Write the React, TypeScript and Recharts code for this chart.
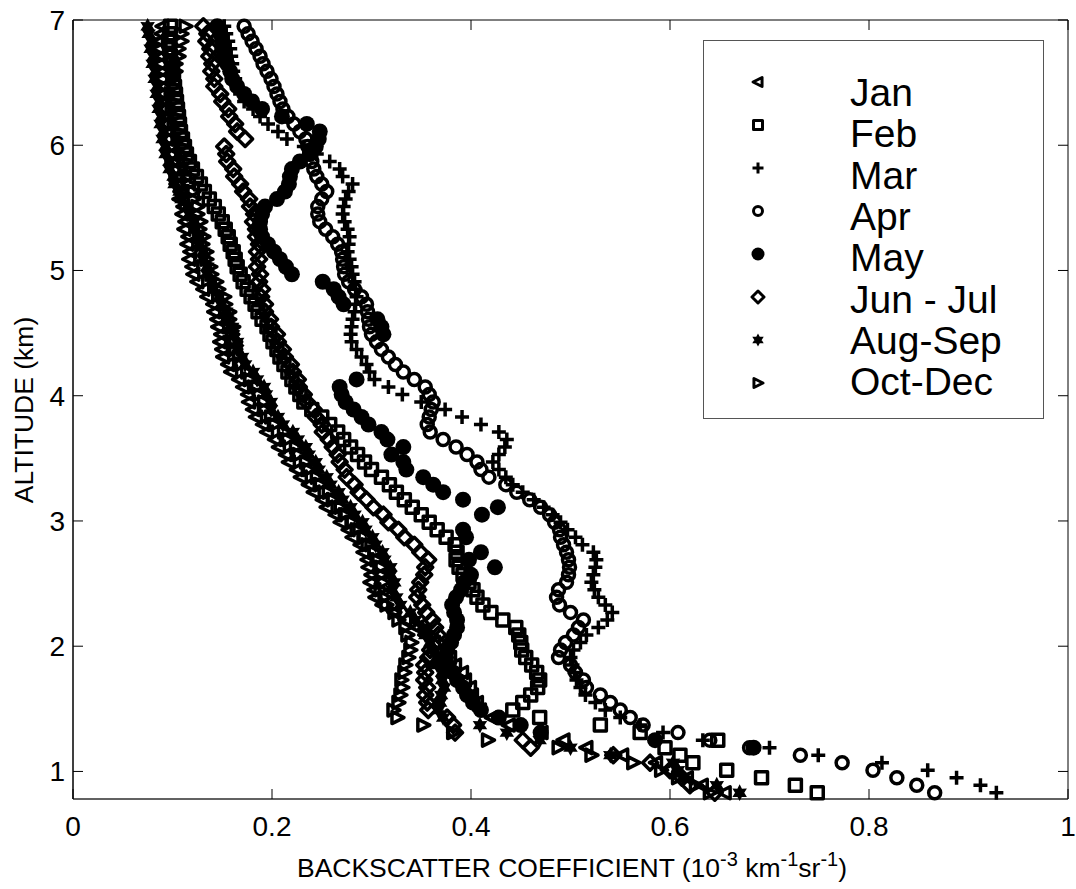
import { Label, Legend, ReferenceArea, Scatter, ScatterChart, XAxis, YAxis } from "recharts";

// Altitude bins shared by every monthly profile (km)
const altitudes = [
  0.83, 0.89, 0.95, 1.01, 1.07, 1.13, 1.19, 1.25, 1.31, 1.37,
  1.43, 1.49, 1.55, 1.61, 1.67, 1.73, 1.79, 1.85, 1.91, 1.97,
  2.03, 2.09, 2.15, 2.21, 2.27, 2.33, 2.39, 2.45, 2.51, 2.57,
  2.63, 2.69, 2.75, 2.81, 2.87, 2.93, 2.99, 3.05, 3.11, 3.17,
  3.23, 3.29, 3.35, 3.41, 3.47, 3.53, 3.59, 3.65, 3.71, 3.77,
  3.83, 3.89, 3.95, 4.01, 4.07, 4.13, 4.19, 4.25, 4.31, 4.37,
  4.43, 4.49, 4.55, 4.61, 4.67, 4.73, 4.79, 4.85, 4.91, 4.97,
  5.03, 5.09, 5.15, 5.21, 5.27, 5.33, 5.39, 5.45, 5.51, 5.57,
  5.63, 5.69, 5.75, 5.81, 5.87, 5.93, 5.99, 6.05, 6.11, 6.17,
  6.23, 6.29, 6.35, 6.41, 6.47, 6.53, 6.59, 6.65, 6.71, 6.77,
  6.83, 6.89, 6.95,
];

// Backscatter coefficient per altitude bin (10^-3 km^-1 sr^-1), null = no sample
const janValues = [
  0.655, 0.632, 0.617, 0.598, 0.586, 0.552, 0.516, 0.493, 0.471, 0.438,
  0.421, 0.409, 0.406, 0.401, 0.399, 0.394, 0.391, 0.384, 0.379, 0.369,
  0.363, 0.354, 0.346, 0.334, 0.323, 0.311, 0.304, 0.303, 0.299, 0.3,
  0.297, 0.296, 0.292, 0.289, 0.281, 0.277, 0.269, 0.264, 0.255, 0.251,
  0.242, 0.237, 0.229, 0.225, 0.217, 0.214, 0.207, 0.203, 0.195, 0.191,
  0.184, 0.181, 0.177, 0.176, 0.171, 0.167, 0.159, 0.156, 0.151, 0.15,
  0.148, 0.149, 0.146, 0.145, 0.142, 0.141, 0.135, 0.131, 0.125, 0.121,
  0.12, 0.117, 0.118, 0.115, 0.116, 0.112, 0.113, 0.11, 0.111, 0.107,
  0.108, 0.104, 0.104, 0.101, 0.1, 0.098, 0.097, 0.095, 0.096, 0.093,
  0.094, 0.091, 0.092, 0.09, 0.091, 0.089, 0.09, 0.088, 0.089, 0.087,
  0.088, 0.089, 0.09,
];

const febValues = [
  0.748, 0.726, 0.692, 0.657, 0.623, 0.61, 0.595, 0.648, 0.57, 0.53,
  0.469, 0.442, 0.452, 0.46, 0.467, 0.469, 0.466, 0.461, 0.455, 0.451,
  0.45, 0.448, 0.445, 0.432, 0.42, 0.412, 0.406, 0.402, 0.398, 0.392,
  0.388, 0.385, 0.386, 0.384, 0.375, 0.366, 0.358, 0.35, 0.341, 0.333,
  0.325, 0.318, 0.31, 0.3, 0.293, 0.286, 0.279, 0.272, 0.266, 0.258,
  0.25, 0.24, 0.232, 0.228, 0.224, 0.22, 0.216, 0.212, 0.208, 0.205,
  0.201, 0.198, 0.195, 0.19, 0.186, 0.183, 0.179, 0.175, 0.171, 0.168,
  0.165, 0.163, 0.161, 0.158, 0.156, 0.153, 0.15, 0.146, 0.142, 0.137,
  0.132, 0.128, 0.124, 0.12, 0.117, 0.114, 0.112, 0.11, 0.108, 0.107,
  0.106, 0.105, 0.104, 0.103, 0.102, 0.101, 0.1, 0.099, 0.098, 0.097,
  0.096, 0.097, 0.098,
];

const marValues = [
  0.928, 0.912, 0.888, 0.859, 0.813, 0.749, 0.7, 0.633, 0.593, 0.57,
  0.55, 0.535, 0.525, 0.515, 0.51, 0.506, 0.504, 0.502, 0.5, 0.503,
  0.51, 0.516, 0.528, 0.537, 0.542, 0.535, 0.528, 0.524, 0.521, 0.523,
  0.525, 0.526, 0.523, 0.512, 0.505, 0.497, 0.49, 0.482, 0.473, 0.463,
  0.452, 0.442, 0.435, 0.428, 0.422, 0.428, 0.434, 0.436, 0.428, 0.41,
  0.391, 0.374, 0.35, 0.331, 0.317, 0.303, 0.298, 0.295, 0.29, 0.285,
  0.28, 0.279, 0.28, 0.281, 0.283, 0.284, 0.285, 0.284, 0.283, 0.281,
  0.28, 0.278, 0.276, 0.277, 0.278, 0.276, 0.273, 0.271, 0.272, 0.274,
  0.277, 0.281, 0.271, 0.268, 0.258, 0.245, 0.232, 0.215, 0.206, 0.196,
  0.188, 0.181, 0.172, 0.168, 0.165, 0.163, 0.161, 0.16, 0.159, 0.158,
  0.156, 0.154, 0.152,
];

const aprValues = [
  0.866, 0.848, 0.828, 0.804, 0.773, 0.731, 0.68, 0.64, 0.608, 0.573,
  0.56, 0.55, 0.54, 0.53, 0.516, 0.513, 0.505, 0.5, 0.488, 0.49,
  0.495, 0.503, 0.508, 0.513, 0.5, 0.489, 0.486, 0.488, 0.496, 0.498,
  0.499, 0.498, 0.496, 0.493, 0.49, 0.489, 0.484, 0.479, 0.47, 0.459,
  0.446, 0.435, 0.418, 0.41, 0.406, 0.396, 0.385, 0.372, 0.359, 0.356,
  0.358, 0.36, 0.362, 0.358, 0.354, 0.343, 0.332, 0.324, 0.317, 0.31,
  0.305, 0.3, 0.298, 0.297, 0.296, 0.295, 0.29, 0.283, 0.277, 0.273,
  0.272, 0.271, 0.27, 0.266, 0.261, 0.254, 0.248, 0.246, 0.246, 0.25,
  0.255, 0.25, 0.245, 0.242, 0.24, 0.238, 0.236, 0.234, 0.228, 0.222,
  0.216, 0.211, 0.208, 0.205, 0.202, 0.199, 0.195, 0.191, 0.188, 0.184,
  0.18, 0.176, 0.172,
];

const mayValues = [
  null, null, null, null, null, null, 0.684, 0.585, 0.47, 0.45,
  0.428, 0.41, 0.402, 0.396, 0.392, 0.386, 0.382, 0.376, 0.375, 0.376,
  0.38, 0.383, 0.386, 0.386, 0.383, 0.381, 0.385, 0.39, 0.393, 0.4,
  0.424, 0.398, 0.41, null, 0.395, 0.392, null, 0.411, 0.427, 0.392,
  0.372, 0.362, 0.352, 0.335, 0.332, 0.32, 0.332, 0.316, 0.31, 0.297,
  0.29, 0.282, 0.274, 0.27, 0.268, 0.285, null, null, null, null,
  null, 0.312, 0.31, 0.306, null, 0.272, 0.267, 0.262, 0.251, 0.22,
  0.214, 0.208, 0.202, 0.196, 0.19, 0.188, 0.188, 0.19, 0.193, 0.205,
  0.213, 0.217, 0.218, 0.22, 0.228, 0.238, 0.244, 0.247, 0.248, 0.235,
  0.21, 0.19, 0.18, 0.172, 0.165, 0.16, 0.158, 0.155, 0.152, 0.15,
  0.15, 0.148, 0.145,
];

const junJulValues = [
  0.645, 0.62, 0.612, 0.6, 0.58, 0.543, 0.46, 0.452, 0.384, 0.382,
  0.376, 0.357, 0.356, 0.354, 0.356, 0.353, 0.354, 0.353, 0.357, 0.359,
  0.366, 0.367, 0.364, 0.361, 0.355, 0.351, 0.346, 0.347, 0.349, 0.353,
  0.354, 0.357, 0.349, 0.343, 0.333, 0.327, 0.317, 0.312, 0.302, 0.295,
  0.287, 0.283, 0.275, 0.273, 0.268, 0.266, 0.261, 0.257, 0.251, 0.25,
  0.244, 0.242, 0.235, 0.232, 0.227, 0.226, 0.221, 0.219, 0.213, 0.211,
  0.206, 0.205, 0.199, 0.198, 0.193, 0.193, 0.189, 0.19, 0.187, 0.188,
  0.185, 0.187, 0.185, 0.187, 0.184, 0.184, 0.181, 0.182, 0.178, 0.177,
  0.171, 0.168, 0.162, 0.161, 0.155, 0.154, 0.152, 0.173, 0.165, 0.163,
  0.157, 0.156, 0.15, 0.148, 0.142, 0.142, 0.139, 0.14, 0.137, 0.138,
  0.134, 0.135, 0.131,
];

const augSepValues = [
  0.67, 0.647, 0.613, 0.608, 0.603, 0.54, 0.5, 0.469, 0.436, 0.409,
  0.372, 0.367, 0.369, 0.37, 0.373, 0.371, 0.371, 0.366, 0.366, 0.361,
  0.359, 0.354, 0.351, 0.344, 0.339, 0.329, 0.325, 0.321, 0.323, 0.319,
  0.319, 0.313, 0.311, 0.304, 0.301, 0.294, 0.291, 0.283, 0.279, 0.271,
  0.267, 0.259, 0.255, 0.247, 0.244, 0.237, 0.234, 0.226, 0.221, 0.211,
  0.206, 0.199, 0.199, 0.194, 0.192, 0.185, 0.181, 0.173, 0.17, 0.165,
  0.165, 0.161, 0.16, 0.155, 0.154, 0.149, 0.147, 0.141, 0.14, 0.135,
  0.135, 0.131, 0.131, 0.127, 0.127, 0.123, 0.122, 0.117, 0.115, 0.109,
  0.107, 0.102, 0.101, 0.097, 0.097, 0.093, 0.093, 0.09, 0.091, 0.088,
  0.089, 0.086, 0.087, 0.084, 0.085, 0.082, 0.083, 0.08, 0.081, 0.078,
  0.079, 0.076, 0.075,
];

const octDecValues = [
  0.64, 0.626, 0.608, 0.591, 0.563, 0.521, 0.488, 0.417, 0.382, 0.352,
  0.326, 0.322, 0.327, 0.329, 0.331, 0.33, 0.333, 0.334, 0.337, 0.339,
  0.34, 0.336, 0.334, 0.327, 0.323, 0.315, 0.313, 0.309, 0.312, 0.31,
  0.31, 0.305, 0.303, 0.296, 0.293, 0.285, 0.281, 0.273, 0.269, 0.261,
  0.257, 0.249, 0.245, 0.237, 0.234, 0.227, 0.224, 0.216, 0.212, 0.203,
  0.199, 0.193, 0.192, 0.187, 0.185, 0.178, 0.175, 0.169, 0.167, 0.163,
  0.163, 0.16, 0.161, 0.157, 0.157, 0.153, 0.152, 0.146, 0.144, 0.139,
  0.138, 0.134, 0.134, 0.13, 0.131, 0.127, 0.128, 0.125, 0.125, 0.121,
  0.121, 0.117, 0.117, 0.113, 0.113, 0.109, 0.109, 0.105, 0.105, 0.101,
  0.102, 0.099, 0.1, 0.098, 0.101, 0.1, 0.103, 0.103, 0.106, 0.106,
  0.109, 0.109, 0.113,
];

const xTicks = [0, 0.2, 0.4, 0.6, 0.8, 1];
const yTicks = [1, 2, 3, 4, 5, 6, 7];

type MarkerKind =
  | "triangleLeft"
  | "square"
  | "plus"
  | "circle"
  | "dot"
  | "diamond"
  | "hexagram"
  | "triangleRight";

const series: Array<{ name: string; kind: MarkerKind; values: (number | null)[] }> = [
  { name: "Jan", kind: "triangleLeft", values: janValues },
  { name: "Feb", kind: "square", values: febValues },
  { name: "Mar", kind: "plus", values: marValues },
  { name: "Apr", kind: "circle", values: aprValues },
  { name: "May", kind: "dot", values: mayValues },
  { name: "Jun - Jul", kind: "diamond", values: junJulValues },
  { name: "Aug-Sep", kind: "hexagram", values: augSepValues },
  { name: "Oct-Dec", kind: "triangleRight", values: octDecValues },
];

const FONT = '"Liberation Sans", Arial, Helvetica, sans-serif';
const PLOT = { left: 73, right: 1068, top: 20, bottom: 799 };
const TICK_LEN = 10;

function toPoints(values: (number | null)[]) {
  const points: { x: number; y: number }[] = [];
  values.forEach((v, i) => {
    if (v !== null) points.push({ x: v, y: altitudes[i] });
  });
  return points;
}

function Marker({ kind, cx, cy, r, sw }: { kind: MarkerKind; cx: number; cy: number; r: number; sw: number }) {
  const common = { fill: "none", stroke: "#000", strokeWidth: sw, strokeLinejoin: "round" as const };
  switch (kind) {
    case "triangleLeft":
      return <polygon {...common} points={`${cx - r * 1.1},${cy} ${cx + r * 0.9},${cy - r} ${cx + r * 0.9},${cy + r}`} />;
    case "triangleRight":
      return <polygon {...common} points={`${cx + r * 1.1},${cy} ${cx - r * 0.9},${cy - r} ${cx - r * 0.9},${cy + r}`} />;
    case "square":
      return <rect {...common} x={cx - r} y={cy - r} width={r * 2} height={r * 2} />;
    case "plus":
      return <path {...common} strokeLinejoin="miter" d={`M${cx - r - 1},${cy}H${cx + r + 1}M${cx},${cy - r - 1}V${cy + r + 1}`} />;
    case "circle":
      return <circle {...common} cx={cx} cy={cy} r={r} />;
    case "dot":
      return <circle cx={cx} cy={cy} r={r + 2} fill="#000" />;
    case "diamond": {
      const d = r + 1.5;
      return <polygon {...common} points={`${cx},${cy - d} ${cx + d},${cy} ${cx},${cy + d} ${cx - d},${cy}`} />;
    }
    case "hexagram": {
      // six-pointed star, filled so it reads as a dark blob at this size
      const pts: string[] = [];
      for (let i = 0; i < 12; i++) {
        const a = (Math.PI / 6) * i - Math.PI / 2;
        const rr = i % 2 === 0 ? r + 0.5 : (r + 0.5) * 0.55;
        pts.push(`${cx + rr * Math.cos(a)},${cy + rr * Math.sin(a)}`);
      }
      return <polygon fill="#000" stroke="#000" strokeWidth={sw * 0.5} points={pts.join(" ")} />;
    }
  }
}

function XTick(props: any) {
  const { x, payload } = props;
  return (
    <g>
      <line x1={x} x2={x} y1={PLOT.bottom} y2={PLOT.bottom - TICK_LEN} stroke="#000" />
      <line x1={x} x2={x} y1={PLOT.top} y2={PLOT.top + TICK_LEN} stroke="#000" />
      <text x={x} y={PLOT.bottom + 37} textAnchor="middle" fontFamily={FONT} fontSize={28} fill="#000">
        {payload.value}
      </text>
    </g>
  );
}

function YTick(props: any) {
  const { y, payload } = props;
  return (
    <g>
      <line x1={PLOT.left} x2={PLOT.left + TICK_LEN} y1={y} y2={y} stroke="#000" />
      <line x1={PLOT.right} x2={PLOT.right - TICK_LEN} y1={y} y2={y} stroke="#000" />
      <text x={PLOT.left - 8} y={y + 10} textAnchor="end" fontFamily={FONT} fontSize={28} fill="#000">
        {payload.value}
      </text>
    </g>
  );
}

function XTitle() {
  return (
    <text x={572} y={877} textAnchor="middle" fontFamily={FONT} fontSize={26.5} fill="#000">
      BACKSCATTER COEFFICIENT (10
      <tspan dy={-11} fontSize={20}>-3</tspan>
      <tspan dy={11}> km</tspan>
      <tspan dy={-11} fontSize={20}>-1</tspan>
      <tspan dy={11}>sr</tspan>
      <tspan dy={-11} fontSize={20}>-1</tspan>
      <tspan dy={11}>)</tspan>
    </text>
  );
}

function YTitle() {
  return (
    <text
      x={33}
      y={410}
      transform="rotate(-90 33 410)"
      textAnchor="middle"
      fontFamily={FONT}
      fontSize={26.5}
      fill="#000"
    >
      ALTITUDE (km)
    </text>
  );
}

function LegendBox() {
  return (
    <div
      style={{
        width: 341,
        height: 379,
        border: "1px solid #555",
        boxSizing: "border-box",
        background: "#fff",
      }}
    >
      <svg width={339} height={377} style={{ display: "block" }}>
        {series.map((s, i) => (
          <g key={s.name}>
            <Marker kind={s.kind} cx={54} cy={41 + 43 * i} r={4.5} sw={3} />
            <text x={146} y={65 + 41.3 * i} fontFamily={FONT} fontSize={39} fill="#000">
              {s.name}
            </text>
          </g>
        ))}
      </svg>
    </div>
  );
}

export default function App() {
  return (
    <div style={{ position: "absolute", left: 0, top: 0, background: "#fff" }}>
      <ScatterChart width={1076} height={889} margin={{ top: 20, right: 8, bottom: 0, left: 0 }}>
        <ReferenceArea x1={0} x2={1} y1={0.78} y2={7} fill="none" stroke="#000" strokeWidth={1} />
        <XAxis
          type="number"
          dataKey="x"
          domain={[0, 1]}
          ticks={xTicks}
          interval={0}
          height={90}
          tickSize={0}
          tickLine={false}
          axisLine={{ stroke: "#444" }}
          tick={(p: any) => <XTick {...p} />}
        >
          <Label content={() => <XTitle />} />
        </XAxis>
        <YAxis
          type="number"
          dataKey="y"
          domain={[0.78, 7]}
          ticks={yTicks}
          interval={0}
          width={73}
          tickSize={0}
          tickLine={false}
          axisLine={{ stroke: "#000" }}
          tick={(p: any) => <YTick {...p} />}
        >
          <Label content={() => <YTitle />} />
        </YAxis>
        <Legend
          layout="vertical"
          align="center"
          verticalAlign="middle"
          wrapperStyle={{ left: 703, top: 40, width: 341, height: 379 }}
          content={() => <LegendBox />}
        />
        {series.map((s) => (
          <Scatter
            key={s.name}
            name={s.name}
            data={toPoints(s.values)}
            isAnimationActive={false}
            shape={(p: any) => <Marker kind={s.kind} cx={p.cx} cy={p.cy} r={6} sw={3.5} />}
          />
        ))}
      </ScatterChart>
    </div>
  );
}
